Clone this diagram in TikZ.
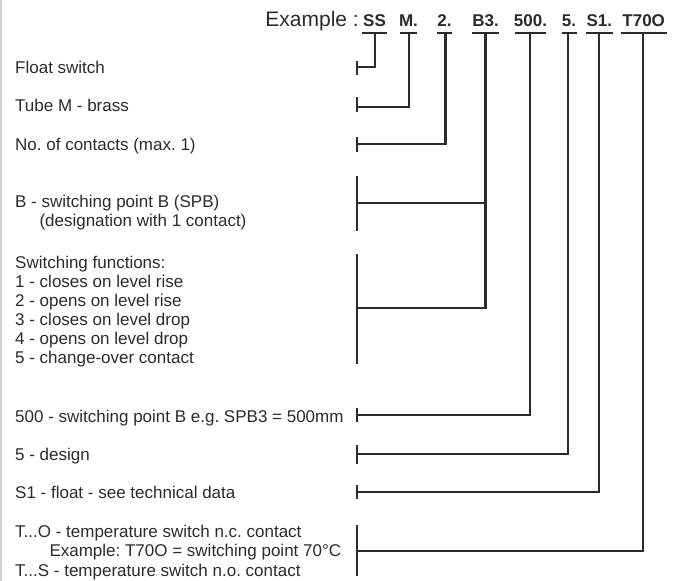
\documentclass[tikz,border=0pt]{standalone}
\usepackage{fontspec}
\setmainfont{Liberation Sans}
\definecolor{ink}{HTML}{2B2B2B}
\definecolor{edge}{HTML}{CFCFCF}
\frenchspacing
\begin{document}
\begin{tikzpicture}[x=1pt,y=-1pt,
  lbl/.style={anchor=base west, inner sep=0pt, font=\fontsize{17}{19}\selectfont, text=ink},
  code/.style={anchor=base, inner sep=0pt, font=\fontsize{17}{19}\selectfont\bfseries, text=ink},
  head/.style={anchor=base east, inner sep=0pt, font=\fontsize{21}{24}\selectfont, text=ink},
  wire/.style={draw=ink, line width=2.2pt},
  bar/.style={draw=ink, line width=2.2pt}]
\useasboundingbox (0,0) rectangle (675,581);
% left border
\draw[edge, line width=2pt] (1,0) -- (1,581);

% header
\node[head] (ex) at (359,26.7) {Example :};
\node[code] (cSS)  at (374.5,26.7) {SS};
\node[code] (cM)   at (408.5,26.7) {M.};
\node[code] (c2)   at (444.5,26.7) {2.};
\node[code] (cB3)  at (485.5,26.7) {B3.};
\node[code] (c500) at (530.5,26.7) {500.};
\node[code] (c5)   at (569,26.7) {5.};
\node[code] (cS1)  at (599.3,26.7) {S1.};
\node[code] (cT)   at (643.7,26.7) {T70O};

% underlines
\draw[wire] (361.7,33.3) -- (387.3,33.3);
\draw[wire] (400,33.3) -- (416.7,33.3);
\draw[wire] (437.3,33.3) -- (451.7,33.3);
\draw[wire] (471.7,33.3) -- (499.3,33.3);
\draw[wire] (515,33.3) -- (546,33.3);
\draw[wire] (561.7,33.3) -- (576.7,33.3);
\draw[wire] (586,33.3) -- (612.7,33.3);
\draw[wire] (620.7,33.3) -- (666.7,33.3);

% connector start points
\coordinate (uSS)  at (375,33.3);
\coordinate (uM)   at (409.3,33.3);
\coordinate (u2)   at (445.5,33.3);
\coordinate (uB3)  at (485.5,33.3);
\coordinate (u500) at (530,33.3);
\coordinate (u5)   at (568.3,33.3);
\coordinate (uS1)  at (598.7,33.3);
\coordinate (uT)   at (643.3,33.3);

% tick end points
\coordinate (tFloat) at (357,66.7);
\coordinate (tTube)  at (357,106.7);
\coordinate (tNo)    at (357,144.3);
\coordinate (tB)     at (357,203.3);
\coordinate (tFun)   at (357,308.3);
\coordinate (t500)   at (357,415.3);
\coordinate (tDes)   at (357,454.3);
\coordinate (tS1)    at (357,491.7);
\coordinate (tTemp)  at (357,550.7);

% tick bars
\draw[bar] (357,61) -- (357,74.5);
\draw[bar] (357,96.7) -- (357,111.7);
\draw[bar] (357,136.7) -- (357,151.7);
\draw[bar] (357,176) -- (357,230.7);
\draw[bar] (357,254) -- (357,364.3);
\draw[bar] (357,408.3) -- (357,421.7);
\draw[bar] (357,445) -- (357,464);
\draw[bar] (357,485) -- (357,499.3);
\draw[bar] (357,525) -- (357,576);

% connectors
\draw[wire] (uSS) |- (tFloat);
\draw[wire] (uM) |- (tTube);
\draw[wire] (u2) |- (tNo);
\draw[wire] (uB3) |- (tFun);
\draw[wire] (tB) -- (tB -| uB3);
\draw[wire] (u500) |- (t500);
\draw[wire] (u5) |- (tDes);
\draw[wire] (uS1) |- (tS1);
\draw[wire] (uT) |- (tTemp);

% labels
\node[lbl] (l1) at (15,73.3) {Float switch};
\node[lbl] (l2) at (15,111.7) {Tube M - brass};
\node[lbl] (l3) at (15,150) {No. of contacts (max. 1)};
\node[lbl] (l4a) at (15,207.5) {B - switching point B (SPB)};
\node[lbl] (l4b) at (39.3,226.5) {(designation with 1 contact)};
\node[lbl] (l5a) at (15,268.3) {Switching functions:};
\node[lbl] (l5b) at (15,287.3) {1 - closes on level rise};
\node[lbl] (l5c) at (15,306.3) {2 - opens on level rise};
\node[lbl] (l5d) at (15,325.3) {3 - closes on level drop};
\node[lbl] (l5e) at (15,344.3) {4 - opens on level drop};
\node[lbl] (l5f) at (15,363.3) {5 - change-over contact};
\node[lbl] (l6) at (15,422.7) {500 - switching point B e.g. SPB3 = 500mm};
\node[lbl] (l7) at (15,460) {5 - design};
\node[lbl] (l8) at (15,498.3) {S1 - float - see technical data};
\node[lbl] (l9a) at (15,537.3) {T...O - temperature switch n.c. contact};
\node[lbl] (l9b) at (49.3,556.7) {Example: T70O = switching point 70°C};
\node[lbl] (l9c) at (15,576) {T...S - temperature switch n.o. contact};
\end{tikzpicture}
\end{document}
